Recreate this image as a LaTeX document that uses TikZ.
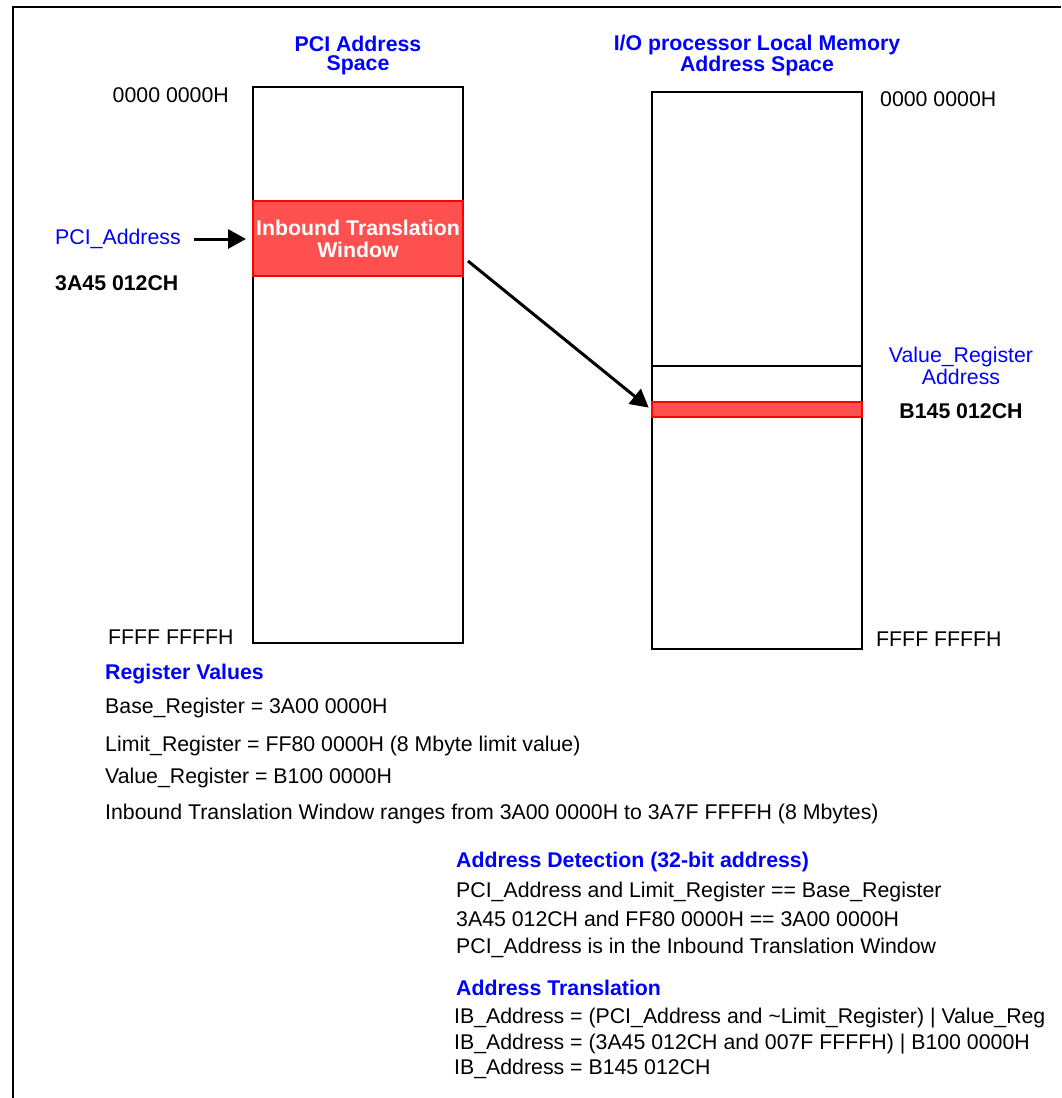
\documentclass[tikz,border=0pt]{standalone}
\usepackage{fontspec}
\setmainfont{Liberation Sans}
\usetikzlibrary{arrows.meta}
\definecolor{tblue}{RGB}{0,0,255}
\definecolor{wred}{RGB}{255,80,80}
\definecolor{bred}{RGB}{255,0,0}
\begin{document}
\begin{tikzpicture}[x=1pt,y=-1pt,
 txt/.style={font=\fontsize{21.3}{24}\selectfont, inner sep=0pt},
 bld/.style={font=\fontsize{21.3}{24}\selectfont\bfseries, inner sep=0pt},
 lbl/.style={txt, anchor=west},
 hd/.style={bld, text=tblue, anchor=west},
 mem/.style={draw, line width=2pt, minimum width=210pt, inner sep=0pt},
 win/.style={draw=bred, fill=wred, line width=2pt, inner sep=0pt, minimum width=210pt},
 arr/.style={line width=3pt, -{Triangle[length=18pt,width=19pt]}}]
\useasboundingbox (0,0) rectangle (1061,1098);
\draw[line width=2pt] (13,1098) -- (13,7) -- (1061,7);
% titles
\node[bld, text=tblue, align=center, font=\fontsize{21.3}{19}\selectfont\bfseries] (t1) at (358,55) {PCI Address\\Space};
\node[bld, text=tblue, align=center, font=\fontsize{21.3}{19}\selectfont\bfseries] (t2) at (757,55.5) {I/O processor Local Memory\\Address Space};
% memory boxes
\node[mem, minimum height=556pt] (pci) at (358,365) {};
\node[win, minimum height=75pt, align=center, text=white,
      font=\fontsize{21.3}{22}\selectfont\bfseries] (win) at (358,238.5) {Inbound Translation\\Window};
\node[mem, minimum height=557pt] (lm) at (757,370.5) {};
\coordinate (sep) at (757,366);
\draw[line width=2pt] (lm.west |- sep) -- (lm.east |- sep);
\node[win, minimum height=15pt] (bar) at (757,409.5) {};
% left labels
\node[txt, anchor=east] (z1) at (229,95) {0000 0000H};
\node[lbl, text=tblue] (pa) at (55,239) {PCI\_Address};
\node[bld, anchor=west] (pv) at (55,283) {3A45 012CH};
\node[lbl] (f1) at (108,637) {FFFF FFFFH};
% right labels
\node[lbl] (z2) at (880,99) {0000 0000H};
\node[lbl] (f2) at (876,639) {FFFF FFFFH};
\node[txt, text=tblue, align=center, font=\fontsize{21.3}{22}\selectfont] (vr) at (961,366) {Value\_Register\\Address};
\node[bld] (vv) at (961,411) {B145 012CH};
% arrows
\draw[arr] ([xshift=13pt]pa.east) -- ([xshift=-6pt]pa.east -| win.west);
\coordinate (d0) at (468,261);
\draw[arr, shorten >=3pt] (d0) -- (bar.west);
% register values
\node[hd] (rv) at (105,674) {Register Values};
\node[lbl] (b1) at (105,708) {Base\_Register = 3A00 0000H};
\node[lbl] (b2) at (105,746) {Limit\_Register = FF80 0000H (8 Mbyte limit value)};
\node[lbl] (b3) at (105,778) {Value\_Register = B100 0000H};
\node[lbl] (b4) at (105,814) {Inbound Translation Window ranges from 3A00 0000H to 3A7F FFFFH (8 Mbytes)};
% address detection
\node[hd] (ad) at (456,862) {Address Detection (32-bit address)};
\node[lbl] (d1) at (456,892) {PCI\_Address and Limit\_Register == Base\_Register};
\node[lbl] (d2) at (456,919) {3A45 012CH and FF80 0000H == 3A00 0000H};
\node[lbl] (d3) at (456,948) {PCI\_Address is in the Inbound Translation Window};
% address translation
\node[hd] (at) at (456,988) {Address Translation};
\node[lbl] (e1) at (454,1018) {IB\_Address = (PCI\_Address and \textasciitilde Limit\_Register) | Value\_Reg};
\node[lbl] (e2) at (454,1044) {IB\_Address = (3A45 012CH and 007F FFFFH) | B100 0000H};
\node[lbl] (e3) at (454,1069) {IB\_Address = B145 012CH};
\end{tikzpicture}
\end{document}
